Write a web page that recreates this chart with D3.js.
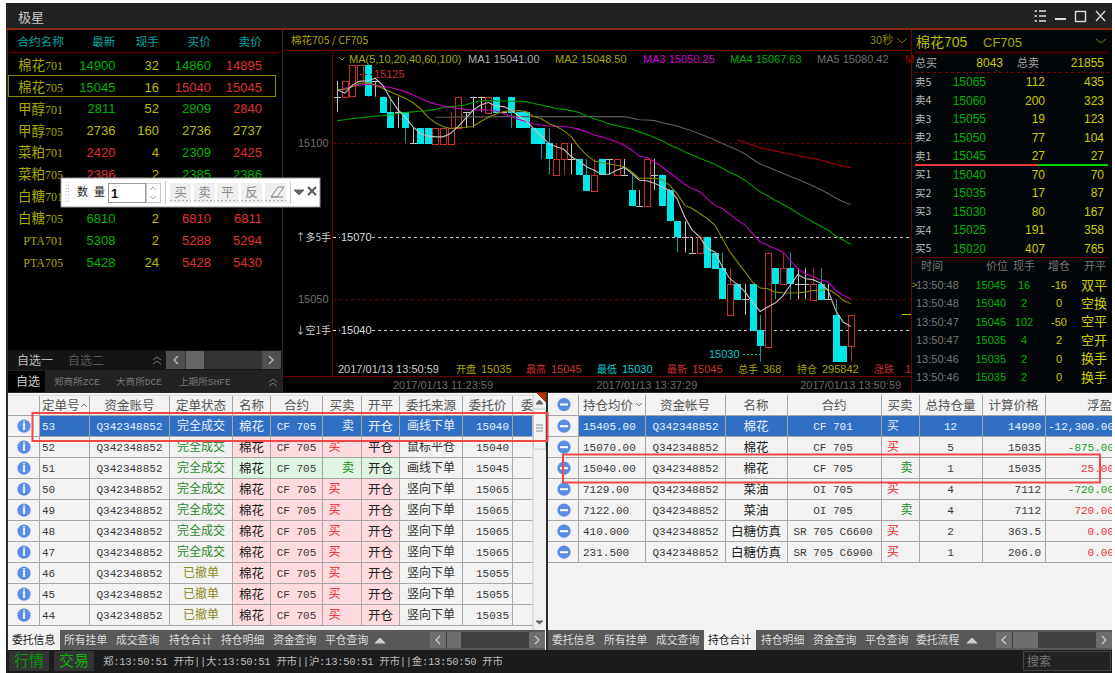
<!DOCTYPE html>
<html><head><meta charset="utf-8"><title>极星</title>
<script src="https://cdn.jsdelivr.net/npm/d3@7/dist/d3.min.js"></script>
<style>html,body{margin:0;padding:0;background:#fff;overflow:hidden}svg{display:block}</style>
</head><body><svg id="c" width="1115" height="673"></svg>
<script>
// ---------- candles ----------
const candleOpen =[15115,15115,15115,15120,15125,15120,15115,15110,15110,15110,15100,15105,15105,15100,15100,15100,15105,15110,15115,15115,15110,15115,15110,15115,15110,15110,15105,15105,15100,15090,15095,15095,15095,15090,15085,15095,15095,15090,15090,15085,15080,15080,15090,15090,15085,15075,15070,15065,15065,15070,15065,15060,15045,15055,15050,15055,15040,15035,15060,15055,15060,15055,15055,15050,15055,15050,15045,15035,15035];
const candleClose=[15115,15120,15125,15125,15115,15120,15110,15105,15110,15105,15100,15100,15100,15105,15105,15105,15115,15110,15115,15115,15115,15110,15110,15110,15105,15105,15100,15100,15095,15095,15100,15095,15090,15085,15090,15090,15095,15095,15090,15080,15080,15095,15090,15080,15075,15070,15070,15065,15070,15060,15060,15050,15055,15050,15050,15040,15035,15065,15055,15060,15055,15055,15055,15055,15050,15050,15030,15030,15045];
const candleHigh =[15120,15120,15125,15125,15125,15120,15115,15115,15115,15110,15105,15105,15105,15105,15105,15110,15115,15110,15115,15115,15115,15115,15110,15115,15110,15110,15105,15105,15105,15100,15100,15100,15095,15095,15095,15095,15095,15095,15095,15090,15085,15095,15095,15090,15085,15075,15075,15070,15070,15070,15065,15065,15060,15055,15055,15055,15045,15065,15060,15065,15065,15060,15060,15060,15060,15055,15050,15035,15045];
const candleLow  =[15110,15115,15115,15120,15115,15115,15110,15105,15105,15100,15100,15100,15100,15100,15100,15100,15105,15105,15105,15110,15110,15110,15110,15105,15105,15105,15100,15095,15090,15090,15090,15090,15090,15085,15085,15090,15090,15090,15090,15080,15080,15080,15085,15080,15075,15065,15065,15065,15065,15060,15060,15050,15045,15050,15045,15040,15030,15035,15050,15055,15050,15050,15050,15050,15050,15050,15030,15030,15030];
// ---------- moving averages, as points above/below the reference price ----------
const refPrice=15100;
const ma1=[17.1,16.1,18.7,20,20,20.9,18.7,14.5,10.9,8.4,5.4,3.2,2.4,2.1,2.1,3.2,5.4,8,10.7,12.3,13.1,12,11.8,10.9,8.8,7.3,4.8,2.4,0,-1.1,-1.9,-4.3,-5.6,-7.5,-8.6,-9.9,-9.9,-8.6,-7.7,-9.6,-11.8,-12,-12.8,-13.9,-15,-17.7,-23.6,-27.8,-30,-33.7,-34.8,-39.6,-43.4,-45.2,-47.6,-50.9,-53.9,-52.5,-51.2,-49,-45.5,-42,-43.4,-43.7,-44.8,-47.1,-53.5,-57.3,-58.7];
const ma2=[17.3,17.3,18.2,19.3,19.5,18.7,17.7,16.6,15.5,14.5,13.1,11.2,8.4,6.6,5.4,4.8,5.1,5.2,5.4,7,8.4,9.4,10.2,10.5,10.5,10.2,8.6,8,6.4,5.4,4.1,2.1,-1.1,-3.7,-5.6,-6.2,-6.6,-7,-7.5,-9.1,-11.2,-11.2,-11.2,-11.5,-13.4,-16.1,-19.8,-20.9,-22.5,-24.1,-26.2,-30.5,-34.8,-38,-41.2,-44.4,-46.4,-46.6,-47.7,-47.9,-48,-47.9,-47.7,-47.2,-47.1,-46.7,-48.2,-50.3,-51.4];
const ma3=[16.9,17.7,18.4,18.7,19,18.7,18.2,18,17.3,16.6,15.5,14.5,13.4,12.6,12,11.5,11.2,10.9,10.7,10.7,10.7,10.4,9.6,8.6,7.7,7,6.2,5.9,5.6,5.4,5.4,5.1,4.5,3.7,2.7,2.1,1.3,0.5,-0.5,-2.1,-4.1,-4.5,-5.9,-7.5,-9.4,-11.2,-13.1,-14.5,-15.5,-17.7,-19.8,-20.9,-22.8,-24.6,-26.2,-28.9,-31.6,-32.7,-33.7,-34.8,-37.5,-40.2,-41.8,-42.8,-43.7,-44.4,-47.1,-48.7,-49.8];
const ma4=[7.3,7.6,8,8.2,8.5,8.8,8.9,9.1,9.6,9.9,10.1,10.3,10.5,10.9,11.6,11.8,12,12.4,13.1,13.7,13.7,13.7,13.6,13.5,13.5,13.4,12.8,12.3,11.8,11.2,10.9,10.5,9.9,8.8,7.9,7.2,6.2,5.7,5.1,4.6,3.7,2.9,1.9,0.9,-0.5,-1.5,-2.7,-3.7,-4.8,-5.7,-6.7,-8,-9.3,-10.4,-11.8,-13.7,-15.5,-16.8,-18.2,-19.5,-20.9,-22.5,-23.8,-25.2,-26.5,-27.8,-29.7,-31,-32.4];
const ma5Start=13;
const ma5=[8.4,8.4,8.4,8.5,8.5,8.5,8.5,8.5,8.5,8.6,8.6,8.6,8.6,8.6,8.6,8.6,8.6,8.6,8.6,8.6,8.6,8.6,8.6,8.6,8.6,8.6,8.1,7.6,7.5,7.3,6.7,6.1,5.6,4.8,4,3,2.1,1.1,0,-1.1,-2.1,-3.4,-5.1,-6.6,-7.6,-8.6,-9.6,-10.6,-11.5,-12.6,-13.7,-14.8,-16.1,-17.5,-18.7,-19.6];
const ma6Start=53;
const ma6=[1.1,0.3,-0.5,-1.3,-1.9,-2.4,-2.9,-3.4,-3.9,-4.4,-4.8,-5.4,-6,-6.7,-7.3,-7.8];
const priceTicks=[15100,15050];
const dateTicks=[[14,'2017/01/13 11:23:59'],[41,'2017/01/13 13:37:29'],[68,'2017/01/13 13:50:59']];
const maLegend=['MA(5,10,20,40,60,100)','MA1 15041.00','MA2 15048.50','MA3 15050.25','MA4 15067.63','MA5 15080.42','M'];
const infoLabels=['开盘','最高','最低','最新','总手','持仓','涨跌'];
const infoValues=['15035','15045','15030','15045','368','295842','1'];
// ---------- watch list ----------
const watchHead=['合约名称','最新','现手','买价','卖价'];
const watchNames=[['棉花','701'],['棉花','705'],['甲醇','701'],['甲醇','705'],['菜粕','701'],['菜粕','705'],['白糖','701'],['白糖','705'],['','PTA701'],['','PTA705']];
const watchLast=['14900','15045','2811','2736','2420','2386','','6810','5308','5428'];
const watchVol=['32','16','52','160','4','2','','2','2','24'];
const watchBid=['14860','15040','2809','2736','2309','2385','','6810','5288','5428'];
const watchAsk=['14895','15045','2840','2737','2425','2386','','6811','5294','5430'];
const watchLastCols=['g','g','g','y','r','r','g','g','g','g'];
const watchBidCols=['g','r','g','y','g','g','g','r','r','r'];
const watchAskCols=['r','r','r','y','r','g','g','r','r','r'];
// ---------- depth ----------
const depthLabels=['卖5','卖4','卖3','卖2','卖1','买1','买2','买3','买4','买5'];
const depthPrice=[15065,15060,15055,15050,15045,15040,15035,15030,15025,15020];
const depthVol=[112,200,19,77,27,70,17,80,191,407];
const depthCum=[435,323,123,104,27,70,87,167,358,765];
const tradeHead=['时间','价位','现手','增仓','开平'];
const tradeTime=['13:50:48','13:50:48','13:50:47','13:50:47','13:50:46','13:50:46'];
const tradePrice=[15045,15040,15045,15035,15035,15035];
const tradeVol=[16,2,102,4,2,2];
const tradeOi=[-16,0,-50,2,0,0];
const tradeType=['双平','空换','空平','空开','换手','换手'];
// ---------- order table ----------
const orderHead=['定单号','资金账号','定单状态','名称','合约','买卖','开平','委托来源','委托价','委'];
const orderIds=[53,52,51,50,49,48,47,46,45,44];
const orderStatus=['完全成交','完全成交','完全成交','完全成交','完全成交','完全成交','完全成交','已撤单','已撤单','已撤单'];
const orderSide=['卖','买','卖','买','买','买','买','买','买','买'];
const orderEffect=['开仓','平仓','开仓','开仓','开仓','开仓','开仓','开仓','开仓','开仓'];
const orderSource=['画线下单','鼠标平仓','画线下单','竖向下单','竖向下单','竖向下单','竖向下单','竖向下单','竖向下单','竖向下单'];
const orderPrice=[15040,15040,15045,15065,15065,15065,15065,15055,15055,15035];
const account='Q342348852';
// ---------- position table ----------
const posHead=['持仓均价','资金帐号','名称','合约','买卖','总持仓量','计算价格','浮盈'];
const posAvg=['15405.00','15070.00','15040.00','7129.00','7122.00','410.000','231.500'];
const posName=['棉花','棉花','棉花','菜油','菜油','白糖仿真','白糖仿真'];
const posCode=['CF 701','CF 705','CF 705','OI 705','OI 705','SR 705 C6600','SR 705 C6900'];
const posSide=['买','买','卖','买','卖','买','买'];
const posQty=[12,5,1,4,4,2,1];
const posCalc=['14900','15035','15035','7112','7112','363.5','206.0'];
const posPnl=['-12,300.00','-875.00','25.00','-720.00','720.00','0.00','0.00'];
const tabsLeft=['委托信息','所有挂单','成交查询','持仓合计','持仓明细','资金查询','平仓查询'];
const tabsRight=['委托信息','所有挂单','成交查询','持仓合计','持仓明细','资金查询','平仓查询','委托流程'];
const statusText='郑:13:50:51 开市||大:13:50:51 开市||沪:13:50:51 开市||金:13:50:50 开市';

// ---------- drawing ----------
const svg=d3.select('#c');
const SANS='"Liberation Sans","Noto Sans CJK SC",sans-serif', MONO='"Liberation Mono","Noto Sans CJK SC",monospace', SERIF='"Liberation Serif","Noto Sans CJK SC",serif', CJK='"Noto Sans CJK SC",sans-serif';
const G='#00b400',R='#e03030',Y='#bcbc00',CY='#00e6e6';
const colOf={g:G,r:R,y:Y};
function T(g,x,y,s,o={}){const t=g.append('text').attr('x',x).attr('y',y).attr('dy','0.36em').text(s)
  .attr('fill',o.fill||'#ccc').attr('font-size',o.size||12).attr('font-family',o.font||SANS)
  .attr('text-anchor',o.anchor||'start');if(o.weight)t.attr('font-weight',o.weight);if(o.len)t.attr('textLength',o.len);return t;}
function Rc(g,x,y,w,h,fill,o={}){const r=g.append('rect').attr('x',x).attr('y',y).attr('width',w).attr('height',h).attr('fill',fill);
  if(o.stroke)r.attr('stroke',o.stroke).attr('stroke-width',o.sw||1);return r;}
function L(g,x1,y1,x2,y2,c,o={}){const l=g.append('line').attr('x1',x1).attr('y1',y1).attr('x2',x2).attr('y2',y2).attr('stroke',c).attr('stroke-width',o.w||1);
  if(o.dash)l.attr('stroke-dasharray',o.dash);return l;}
function P(g,d,c,w,fill){return g.append('path').attr('d',d).attr('stroke',c).attr('stroke-width',w||1).attr('fill',fill||'none');}

// window
Rc(svg,6,3,1106,670,'#2a2a2a');
Rc(svg,6,3,1106,25,'#222');
Rc(svg,6,28,1106,2,'#8a2a08');
T(svg,18,17,'极星',{size:13,fill:'#c8c8c8',font:CJK});
const tb=svg.append('g');
[11,16,21].forEach(y=>{L(tb,1039,y,1046,y,'#ddd',{w:1.5});L(tb,1034.5,y,1037,y,'#ddd',{w:1.5});});
L(tb,1055,19,1066,19,'#ddd',{w:2});
Rc(tb,1075.5,11.5,10,10,'none',{stroke:'#ddd',sw:1.4});
P(tb,'M1096 11L1105 21M1105 11L1096 21','#ddd',1.3);

// panels
Rc(svg,8,30,274,362,'#000');
Rc(svg,283,30,829,362,'#000');
Rc(svg,912,30,200,362,'#030608');

// watch list
const wl=svg.append('g');
const wx=[64,115.5,159,211,262];
watchHead.forEach((h,i)=>T(wl,wx[i],42,h,{anchor:'end',fill:'#00a8a8',size:11.7,font:CJK}));
L(wl,9,52.5,281,52.5,'#4a0000',{w:2});
const rowY=i=>65+i*21.9;
watchNames.forEach((n,i)=>{
  const y=rowY(i);
  const t=T(wl,63,y,'',{anchor:'end',fill:'#a8a800',font:CJK,size:13.5});
  if(n[0])t.append('tspan').text(n[0]);
  t.append('tspan').attr('font-family',SERIF).attr('font-size',12).text(n[1]);
  if(watchLast[i]==='')return;
  T(wl,wx[1],y,watchLast[i],{anchor:'end',size:13,fill:colOf[watchLastCols[i]]});
  T(wl,wx[2],y,watchVol[i],{anchor:'end',size:13,fill:Y});
  T(wl,wx[3],y,watchBid[i],{anchor:'end',size:13,fill:colOf[watchBidCols[i]]});
  T(wl,wx[4],y,watchAsk[i],{anchor:'end',size:13,fill:colOf[watchAskCols[i]]});
});
Rc(wl,8.5,75.5,267,21,'none',{stroke:'#8c8c00'});
// watch tabs
Rc(wl,8,350,274,20,'#151515');
T(wl,17,361,'自选一',{fill:'#bbb',font:CJK});
T(wl,68,361,'自选二',{fill:'#555',font:CJK});
P(wl,'M153 360l4-3 4 3M153 364l4-3 4 3','#777',1);
Rc(wl,166,351,115,18,'#333');
Rc(wl,166,351,19,18,'#505050');Rc(wl,186,351,18,18,'#666');Rc(wl,262,351,19,18,'#505050');
P(wl,'M178 356l-4 4 4 4','#bbb',1.3);P(wl,'M269 356l4 4-4 4','#bbb',1.3);
Rc(wl,8,370,274,22,'#222');Rc(wl,8,371,37,21,'#000');
T(wl,16,382,'自选',{fill:'#ccc',font:CJK});
[[54,'郑商所ZCE'],[116,'大商所DCE'],[179,'上期所SHFE']].forEach(d=>T(wl,d[0],382,d[1],{fill:'#777',font:MONO,size:9.6}));
P(wl,'M269 382l4-3 4 3M269 386l4-3 4 3','#777',1);

// chart
const ch=svg.append('g');
const x=d3.scaleLinear().domain([0,68]).range([337.3,850.7]);
const y=d3.scaleLinear().domain([15050,15100]).range([299.3,143.4]);
const n=candleOpen.length;
L(ch,283,50.5,912,50.5,'#700000');
T(ch,291,40,'棉花705 / CF705',{fill:'#a8a800',size:10.5,font:CJK});
T(ch,870,40,'30秒',{fill:'#8a8a00',size:11,font:CJK});
P(ch,'M897 38l5 5 5-5','#7a7a00',1);
P(ch,'M339 57l3 3 3-3','#8a8a00',1);
const maX=[349,468,555,643,730,817,905],maC=['#a8a800','#b0b0b0','#a8a800','#d000d0','#00b000','#707070','#b00000'];
maLegend.forEach((s,i)=>T(ch,maX[i],59,s,{fill:maC[i],size:11}));
const yAxis=d3.axisLeft(y).tickValues(priceTicks).tickFormat(d3.format('d')).tickSize(0).tickPadding(5);
const ya=ch.append('g').attr('transform','translate(333.5,0)').call(yAxis);
ya.select('.domain').remove();
ya.selectAll('text').attr('fill','#707070').attr('font-size',11).attr('font-family',SANS);
priceTicks.forEach(p=>L(ch,333,Math.round(y(p))+.5,911,Math.round(y(p))+.5,'#6a0000',{dash:'3 3'}));
[[15070,'多5手','↑'],[15040,'空1手','↓']].forEach(d=>{
  const yy=Math.round(y(d[0]))+.5;
  L(ch,333,yy,340,yy,'#ddd',{dash:'3 3'});L(ch,372,yy,911,yy,'#ccc',{dash:'3 3'});
  T(ch,331,yy,d[2]+d[1],{fill:'#ccc',size:10,font:CJK,anchor:'end'});
  T(ch,341,yy,String(d[0]),{fill:'#ddd',size:11});
});
L(ch,332.5,50,332.5,376,'#700000');
L(ch,283,376.5,912,376.5,'#700000');
L(ch,911.5,30,911.5,392,'#700000');
// candles
const idx=d3.range(n);
const cw=3;
const kind=i=>candleClose[i]>candleOpen[i]?'up':candleClose[i]<candleOpen[i]?'dn':'dj';
const wickC={up:'#b02828',dn:'#109a9a',dj:'#c4c4c4'};
const cg=ch.append('g');
cg.selectAll('line.w').data(idx).join('line').attr('class','w')
  .attr('x1',i=>Math.round(x(i))+.5).attr('x2',i=>Math.round(x(i))+.5)
  .attr('y1',i=>y(candleHigh[i])).attr('y2',i=>y(candleLow[i]))
  .attr('stroke',i=>wickC[kind(i)]);
cg.selectAll('rect.b').data(idx).join('rect').attr('class','b')
  .attr('x',i=>Math.round(x(i))-cw+(kind(i)=='up'?.5:0))
  .attr('width',i=>kind(i)=='up'?cw*2:cw*2+1)
  .attr('y',i=>kind(i)=='dj'?Math.round(y(candleOpen[i])):Math.round(y(Math.max(candleOpen[i],candleClose[i])))+(kind(i)=='up'?.5:0))
  .attr('height',i=>kind(i)=='dj'?1:Math.round(Math.abs(y(candleOpen[i])-y(candleClose[i]))))
  .attr('fill',i=>kind(i)=='dn'?CY:kind(i)=='up'?'#000':'#c4c4c4')
  .attr('stroke',i=>kind(i)=='up'?'#c83030':'none');
// MA lines
const lineOf=(arr,start)=>d3.line().x((d,i)=>x(i+start)).y(d=>y(refPrice+d))(arr);
[[ma6,ma6Start,'#a80000'],[ma5,ma5Start,'#5e5e5e'],[ma4,0,'#00a000'],[ma3,0,'#c000c0'],[ma2,0,'#8c8c00'],[ma1,0,'#c4c4c4']]
 .forEach(d=>P(ch,lineOf(d[0],d[1]),d[2],1.1));
// labels on chart
T(ch,374,74,'15125',{fill:'#c03030',size:11});
L(ch,355,74.5,372,74.5,'#a02020',{dash:'2 3'});
T(ch,709,354,'15030',{fill:'#00c8c8',size:11});
L(ch,743,354.5,760,354.5,'#00b0b0',{dash:'2 2'});
L(ch,902,314.5,911,314.5,'#c8c800');
// info row
T(ch,338,369,'2017/01/13 13:50:59',{fill:'#ccc',size:11});
const ilx=[456,526,597,667,738,797,874],ivx=[481,551,622,692,763,822,905];
const ilc=['#a8a800','#d03030','#00d0d0','#d03030','#a8a800','#a8a800','#c03030'];
infoLabels.forEach((s,i)=>{T(ch,ilx[i],369,s,{fill:ilc[i],size:10,font:CJK});T(ch,ivx[i],369,infoValues[i],{fill:ilc[i],size:11});});
dateTicks.forEach(d=>T(ch,x(d[0]),385,d[1],{fill:'#6c6c6c',size:11,anchor:'middle'}));

// depth
const dp=svg.append('g');
T(dp,916,42,'棉花705',{fill:'#bcbc00',size:14});
T(dp,983,42,'CF705',{fill:'#a8a800',size:13});
P(dp,'M1096 39l5 4 5-4','#7a7a00',1);
L(dp,915,52.5,1108,52.5,'#4a0000',{w:2});
T(dp,915,63,'总买',{fill:'#aaa',size:11,font:CJK});
T(dp,1003,63,'8043',{fill:'#cccc00',anchor:'end'});
T(dp,1017,63,'总卖',{fill:'#aaa',size:11,font:CJK});
T(dp,1104,63,'21855',{fill:'#cccc00',anchor:'end'});
L(dp,915,72.5,1112,72.5,'#8a0000',{dash:'3 3'});
depthLabels.forEach((s,i)=>{
  const yy=82+i*18.5;
  T(dp,915,yy,s,{fill:'#bbb',size:10.5,font:CJK});
  T(dp,986,yy,depthPrice[i],{fill:G,anchor:'end'});
  T(dp,1045,yy,depthVol[i],{fill:'#cccc00',anchor:'end'});
  T(dp,1104,yy,depthCum[i],{fill:'#cccc00',anchor:'end'});
});
Rc(dp,915,164,123,2,'#f03838');Rc(dp,1038,164,70,2,'#00d000');
L(dp,915,257.5,1108,257.5,'#600000');
const trHx=[921,997,1024,1059,1095];
tradeHead.forEach((s,i)=>T(dp,trHx[i],266,s,{fill:'#777',size:11,font:CJK,anchor:i?'middle':'start'}));
T(dp,912,285,'>',{fill:'#a8a800',size:9});
tradeTime.forEach((s,i)=>{
  const yy=285+i*18.4;
  T(dp,916,yy,s,{fill:'#777',size:11});
  T(dp,1006,yy,tradePrice[i],{fill:G,size:11,anchor:'end'});
  T(dp,1024,yy,tradeVol[i],{fill:G,size:11,anchor:'middle'});
  T(dp,1059,yy,tradeOi[i],{fill:'#cccc00',size:11,anchor:'middle'});
  T(dp,1094,yy,tradeType[i],{fill:'#cccc00',size:13,font:CJK,anchor:'middle'});
});

// tables
Rc(svg,8,393,1104,257,'#f2f2f2');
const GRID='#a6a6a6',HDR='#555',PINK='#ffdade',MINT='#e0f4e4',BLUE='#3070c4',INK='#3a3a3a';
const rowH=21,firstRow=415.5;
const ry=i=>firstRow+i*rowH;
const lEdges=[39.5,89.5,169.5,232.5,270.5,322.5,361.5,399.5,462.5,512.5];
const ot=svg.append('g');
const idxRows=d3.range(orderIds.length);
idxRows.forEach(i=>{
  const pink=orderSide[i]=='买'?PINK:MINT;
  if(i==0)Rc(ot,39.5,ry(i),493,rowH,BLUE);
  else Rc(ot,232.5,ry(i),167,rowH,pink);
});
// grid
const gl=ot.append('g');
lEdges.forEach(e=>L(gl,e,395,e,ry(10),GRID));
d3.range(11).forEach(i=>L(gl,8,ry(i),533,ry(i),GRID));
L(gl,8,395.5,533,395.5,'#ddd');
const lx=[42,129.5,201,251.5,296.5,342,380.5,431,487.5,521];
orderHead.forEach((s,i)=>T(ot,lx[i],405,s,{fill:HDR,size:12.5,font:CJK,anchor:(i==0||i==9)?'start':'middle'}));
P(ot,'M81 407l3-3 3 3','#777',1);
idxRows.forEach(i=>{
  const yy=ry(i)+10.5,sel=i==0;
  const c=a=>sel?'#e8eefa':a;
  ot.append('circle').attr('cx',24).attr('cy',yy+.2).attr('r',6.6).attr('fill','#5a8ce6');
  T(ot,24,yy,'i',{fill:'#fff',size:12,weight:'bold',anchor:'middle'});
  T(ot,42,yy,orderIds[i],{fill:c(INK),font:MONO,size:11});
  T(ot,129.5,yy,account,{fill:c(INK),font:MONO,size:11,anchor:'middle'});
  T(ot,201,yy,orderStatus[i],{fill:c(i<7?'#2a8a2a':'#8a8a20'),font:CJK,anchor:'middle'});
  T(ot,251.5,yy,'棉花',{fill:c('#222'),font:CJK,anchor:'middle',size:12.5});
  T(ot,296.5,yy,'CF 705',{fill:c(INK),font:MONO,size:11,anchor:'middle'});
  const buy=orderSide[i]=='买';
  T(ot,buy?334.5:348,yy,orderSide[i],{fill:c(buy?'#f02020':'#209020'),font:CJK,anchor:'middle',size:12});
  T(ot,380.5,yy,orderEffect[i],{fill:c('#222'),font:CJK,anchor:'middle',size:12.5});
  T(ot,431,yy,orderSource[i],{fill:c('#333'),font:CJK,anchor:'middle'});
  T(ot,509,yy,orderPrice[i],{fill:c(INK),font:MONO,size:11,anchor:'end'});
});
// order scrollbar
Rc(ot,533,393,12,237,'#f0f0f0');L(ot,533,393,533,630,'#ccc');
Rc(ot,533.5,409,12,40,'#f5f5f5',{stroke:'#c8c8c8'});
P(ot,'M536 425h7M536 428h7M536 431h7','#888',1);
P(ot,'M536 404l3.5-4 3.5 4Z','#666',0,'#666');
P(ot,'M536 621l3.5 3 3.5-3Z','#666',0,'#666');
P(ot,'M537 393h9v9Z','#b03000',0,'#b03000');

// positions
const pt=svg.append('g');
Rc(pt,546,393,2,257,'#2a2a2a');
const rEdges=[578.5,645.5,725.5,787.5,881.5,919.5,982.5,1045.5];
Rc(pt,579,ry(0),533,rowH,BLUE);
const pg=pt.append('g');
rEdges.forEach(e=>L(pg,e,395,e,ry(7),GRID));
d3.range(8).forEach(i=>L(pg,548,ry(i),1112,ry(i),GRID));
const rHx=[583,685,756,834,900,950.5,1013.5,1087];
posHead.forEach((s,i)=>T(pt,rHx[i],405,s,{fill:HDR,size:12.5,font:CJK,anchor:(i==0||i==7)?'start':'middle'}));
P(pt,'M636 403l3 3 3-3','#777',1);
pt.append('circle').attr('cx',564).attr('cy',404.5).attr('r',6.6).attr('fill','#5a8ce6');
L(pt,560,404.5,568,404.5,'#fff',{w:2});
const cp=d3.select('svg').append('defs').append('clipPath').attr('id','pc');cp.append('rect').attr('x',1046).attr('y',393).attr('width',66).attr('height',240);
const pnlG=pt.append('g').attr('clip-path','url(#pc)');
posAvg.forEach((s,i)=>{
  const yy=ry(i)+10.5,sel=i==0;
  const c=a=>sel?'#e8eefa':a;
  pt.append('circle').attr('cx',564).attr('cy',yy+.2).attr('r',6.6).attr('fill','#5a8ce6');
  L(pt,560,yy+.2,568,yy+.2,'#fff',{w:2});
  T(pt,583,yy,s,{fill:c(INK),font:MONO,size:11});
  T(pt,685.5,yy,account,{fill:c(INK),font:MONO,size:11,anchor:'middle'});
  T(pt,756,yy,posName[i],{fill:c('#222'),font:CJK,anchor:'middle',size:12.5});
  T(pt,833,yy,posCode[i],{fill:c(INK),font:MONO,size:11,anchor:'middle'});
  const buy=posSide[i]=='买';
  T(pt,buy?893:906.5,yy,posSide[i],{fill:c(buy?'#f02020':'#209020'),font:CJK,anchor:'middle'});
  T(pt,950.5,yy,posQty[i],{fill:c(INK),font:MONO,size:11,anchor:'middle'});
  T(pt,1041,yy,posCalc[i],{fill:c(INK),font:MONO,size:11,anchor:'end'});
  const neg=posPnl[i][0]=='-';
  T(pnlG,1114,yy,posPnl[i],{fill:sel?'#e8eefa':(neg?'#2a9a2a':'#f03040'),font:MONO,size:11,anchor:'end'});
});

// tabs
function tabs(xs,names,active,activeX,activeW,tri,bx){
  const g=svg.append('g');
  Rc(g,bx[0],630,bx[1]-bx[0],20,'#585858');
  Rc(g,activeX,630,activeW,20,'#f2f2f2');
  names.forEach((s,i)=>T(g,xs[i],640,s,{fill:i==active?'#222':'#ddd',font:CJK,size:10.8}));
  P(g,`M${tri-5} 643l5-5 5 5Z`,'#ccc',0,'#ccc');
  Rc(g,bx[2],632,bx[1]-bx[2],16,'#3e3e3e');
  Rc(g,bx[2],632,16,16,'#6e6e6e');
  Rc(g,bx[2]+17,632,bx[3],16,'#6e6e6e');
  Rc(g,bx[1]-16,632,16,16,'#6e6e6e');
  P(g,`M${bx[2]+10} 636l-4 4 4 4`,'#ccc',1.3);
  P(g,`M${bx[1]-10} 636l4 4-4 4`,'#ccc',1.3);
}
tabs([12,64,116,169,221,273,325],tabsLeft,0,8,52,380,[8,545,430,14]);
tabs([552,604,656,708,761,813,865,916],tabsRight,3,704,52,972,[548,1112,996,25]);

// status bar
const st=svg.append('g');
Rc(st,6,650,1106,23,'#1c1c1c');
Rc(st,9,651,40,20,'#333');Rc(st,54,651,40,20,'#333');
T(st,14,661,'行情',{fill:'#0a9a0a',size:15,font:CJK});
T(st,59,661,'交易',{fill:'#10b010',size:15,font:CJK});
T(st,103,661,statusText,{fill:'#bbb',font:MONO,size:10.5,len:400});
Rc(st,1023.5,651.5,87,19,'#222',{stroke:'#444'});
T(st,1027,662,'搜索',{fill:'#777',font:CJK,size:12});

// floating toolbar
const fb=svg.append('g');
Rc(fb,61,178,259,29,'#fff',{stroke:'#999'});
d3.range(7).forEach(i=>{fb.append('circle').attr('cx',66).attr('cy',182+i*3.2).attr('r',.6).attr('fill','#aaa');fb.append('circle').attr('cx',68.5).attr('cy',182+i*3.2).attr('r',.6).attr('fill','#aaa');});
T(fb,77,192,'数',{fill:'#222',font:CJK,size:11});T(fb,94,192,'量',{fill:'#222',font:CJK,size:11});
Rc(fb,108.5,183.5,37,19,'#fff',{stroke:'#999'});
T(fb,111,193,'1',{fill:'#111',size:13,weight:'bold'});
Rc(fb,146.5,183.5,14,19,'#fff',{stroke:'#ccc'});
P(fb,'M150 190l3-3 3 3M150 196l3 3 3-3','#aaa',1);
L(fb,165.5,181,165.5,204,'#ccc');L(fb,290.5,181,290.5,204,'#ccc');
[[170,'买'],[194,'卖'],[217,'平'],[241,'反'],[265,'']].forEach(d=>{
  Rc(fb,d[0],183,21,20,'#efefef');
  if(d[1])T(fb,d[0]+10.5,192,d[1],{fill:'#888',font:CJK,size:12.5,anchor:'middle'});
  L(fb,d[0],200.5,d[0]+21,200.5,'#aaa',{dash:'2 2'});
});
P(fb,'M271 197l7-10h6l-7 10ZM271 197h12','#888',1);
P(fb,'M294 190h10l-5 5Z','#666',0,'#666');
P(fb,'M308 187l8 8M316 187l-8 8','#555',2);

// red annotation boxes
Rc(svg,32.5,413,515,28,'none',{stroke:'#f04848',sw:2});
Rc(svg,563,454.5,537,28,'none',{stroke:'#f04848',sw:2});
</script></body></html>
